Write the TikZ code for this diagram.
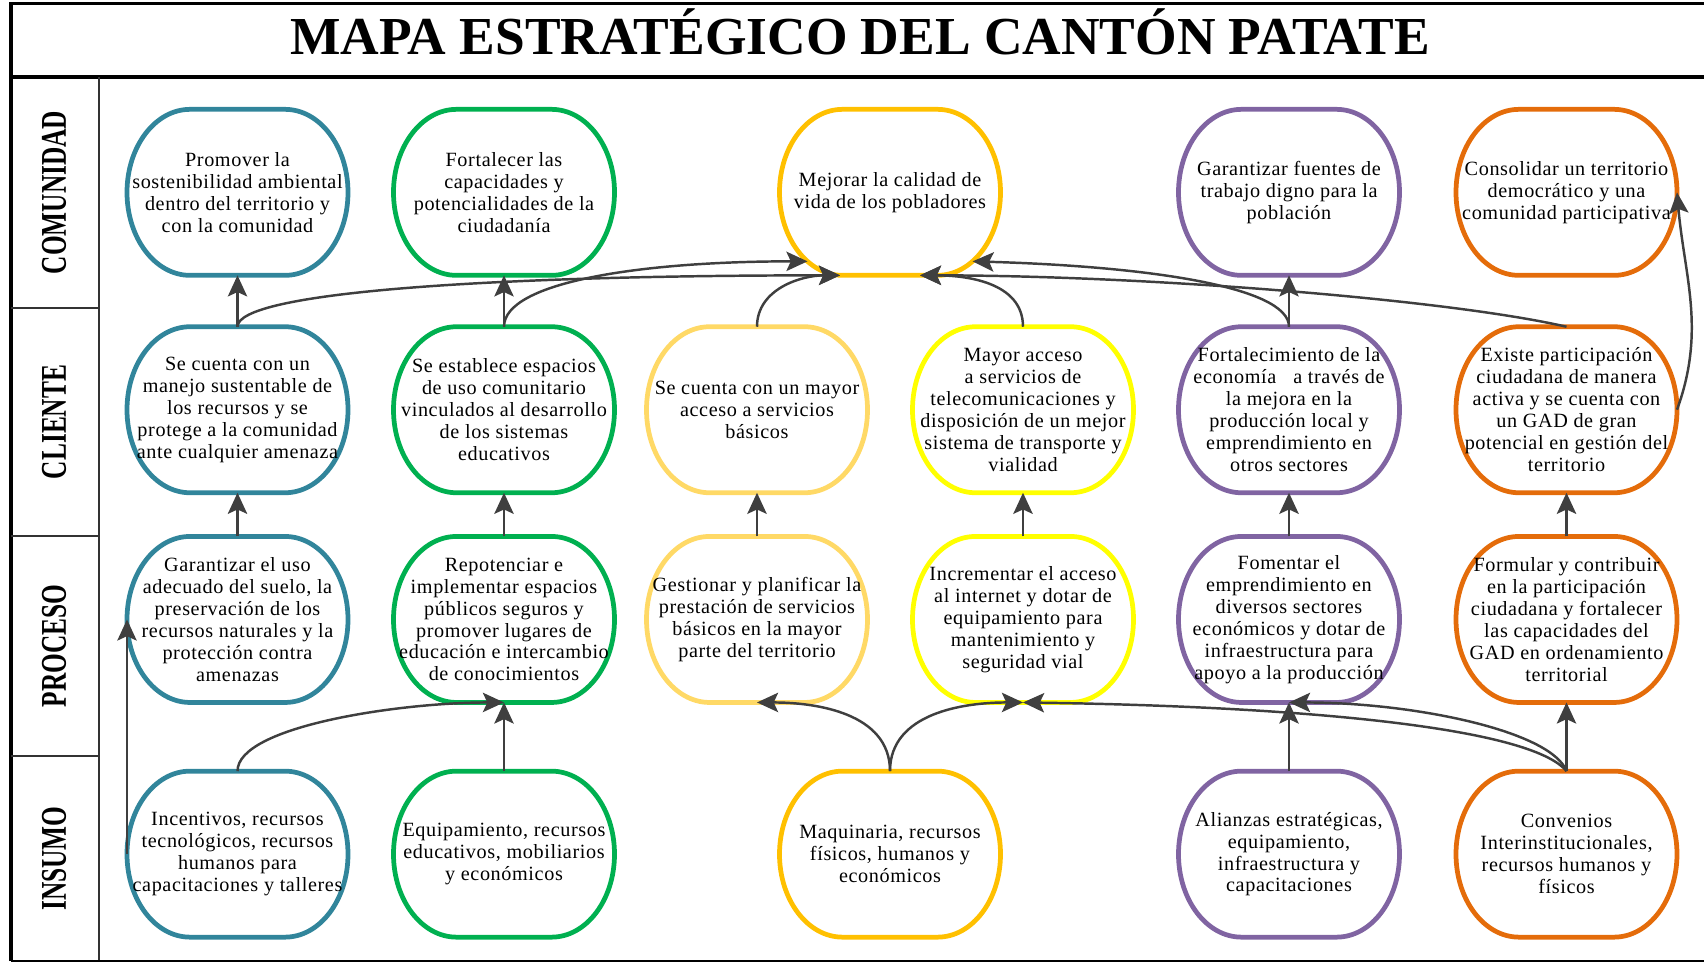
\documentclass[tikz,border=0pt]{standalone}
\usepackage{fontspec}
\usepackage{graphicx}
\usepackage{xcolor}
\usepackage{tikz}
\usetikzlibrary{arrows.meta,positioning}
\setmainfont{Liberation Serif}
\newfontfamily\objfam[LetterSpace=3.0]{Liberation Serif}
\newcommand{\objfont}{\objfam\fontsize{11.5pt}{12.5pt}\selectfont}

\definecolor{cTeal}{RGB}{49,133,155}
\definecolor{cGreen}{RGB}{0,176,80}
\definecolor{cGold}{RGB}{255,192,0}
\definecolor{cSand}{RGB}{255,217,102}
\definecolor{cYellow}{RGB}{255,255,0}
\definecolor{cPurple}{RGB}{128,100,162}
\definecolor{cOrange}{RGB}{228,108,10}
\definecolor{cArrow}{RGB}{63,63,63}

\tikzset{
  ms_box/.style={
    minimum width=4.42cm, minimum height=3.32cm, inner sep=0pt, outer sep=0pt,
    align=center, font=\objfont,
    append after command={\pgfextra{\begin{pgfinterruptpath}
      \draw[#1, line width=2.7pt, line join=round]
        ([xshift=1.26cm]\tikzlastnode.north west) -- ([xshift=-1.26cm]\tikzlastnode.north east)
        arc[start angle=90, end angle=-90, x radius=1.26cm, y radius=1.66cm]
        -- ([xshift=1.26cm]\tikzlastnode.south west)
        arc[start angle=270, end angle=90, x radius=1.26cm, y radius=1.66cm] -- cycle;
    \end{pgfinterruptpath}}}
  },
  ms_teal/.style={ms_box=cTeal},
  ms_green/.style={ms_box=cGreen},
  ms_gold/.style={ms_box=cGold},
  ms_sand/.style={ms_box=cSand},
  ms_yellow/.style={ms_box=cYellow},
  ms_purple/.style={ms_box=cPurple},
  ms_orange/.style={ms_box=cOrange},
  ms_arr/.style={-{Stealth[length=12pt, width=11pt, inset=2.5pt]}, line width=1.4pt, draw=cArrow},
  ms_title/.style={font=\fontsize{30.4pt}{32pt}\selectfont\bfseries, anchor=base, inner sep=0pt},
  ms_lane/.style={font=\fontsize{20.6pt}{22pt}\selectfont\bfseries, rotate=90, inner sep=0pt},
  ms_thick/.style={line width=1.9pt},
  ms_thin/.style={line width=0.7pt, black!80},
}

\begin{document}
\begin{tikzpicture}

\useasboundingbox (0,0) rectangle (34.08,-19.26);

% Frame
\draw[ms_thick] (0.22,-19.22) -- (0.22,-0.066) -- (34.3,-0.066);
\draw[ms_thick] (0.22,-1.54) -- (34.3,-1.54);
\draw[ms_thin] (1.98,-1.54) -- (1.98,-19.22);
\draw[ms_thin] (0.22,-6.16) -- (1.98,-6.16);
\draw[ms_thin] (0.22,-10.72) -- (1.98,-10.72);
\draw[ms_thin] (0.22,-15.12) -- (1.98,-15.12);
\draw[line width=1.2pt] (0.22,-19.22) -- (34.3,-19.22);

\node[ms_title] (title) at (17.2,-1.09) {MAPA ESTRATÉGICO DEL CANTÓN PATATE};

% Lanes
\node[ms_lane] (lane1) at (1.08,-3.85)  {\scalebox{0.7}[1]{COMUNIDAD}};
\node[ms_lane] (lane2) at (1.08,-8.44)  {\scalebox{0.7}[1]{CLIENTE}};
\node[ms_lane] (lane3) at (1.08,-12.92) {\scalebox{0.7}[1]{PROCESO}};
\node[ms_lane] (lane4) at (1.08,-17.17) {\scalebox{0.7}[1]{INSUMO}};

% Column 1
\node[ms_teal] (com1) at (4.75,-3.847) {Promover la\\sostenibilidad ambiental\\dentro del territorio y\\con la comunidad};
\node[ms_teal, below=1.028cm of com1] (cli1) {Se cuenta con un\\manejo sustentable de\\los recursos y se\\protege a la comunidad\\ante cualquier amenaza};
\node[ms_teal, below=0.874cm of cli1] (pro1) {Garantizar el uso\\adecuado del suelo, la\\preservación de los\\recursos naturales y la\\protección contra\\amenazas};
\node[ms_teal, below=1.374cm of pro1] (ins1) {Incentivos, recursos\\tecnológicos, recursos\\humanos para\\capacitaciones y talleres};

% Column 2
\node[ms_green, right=0.91cm of cli1] (cli2) {Se establece espacios\\de uso comunitario\\vinculados al desarrollo\\de los sistemas\\educativos};
\node[ms_green, above=1.028cm of cli2] (com2) {Fortalecer las\\capacidades y\\potencialidades de la\\ciudadanía};
\node[ms_green, below=0.874cm of cli2] (pro2) {Repotenciar e\\implementar espacios\\públicos seguros y\\promover lugares de\\educación e intercambio\\de conocimientos};
\node[ms_green, below=1.374cm of pro2] (ins2) {Equipamiento, recursos\\educativos, mobiliarios\\y económicos};

% Columns 3 and 4
\node[ms_sand, right=0.64cm of cli2] (cli3) {Se cuenta con un mayor\\acceso a servicios\\básicos};
\node[ms_sand, below=0.874cm of cli3] (pro3) {Gestionar y planificar la\\prestación de servicios\\básicos en la mayor\\parte del territorio};
\node[ms_yellow, right=0.90cm of cli3] (cli4) {Mayor acceso\\a servicios de\\telecomunicaciones y\\disposición de un mejor\\sistema de transporte y\\vialidad};
\node[ms_yellow, below=0.874cm of cli4] (pro4) {Incrementar el acceso\\al internet y dotar de\\equipamiento para\\mantenimiento y\\seguridad vial};
\node[ms_gold, right=3.30cm of com2] (mej) {Mejorar la calidad de\\vida de los pobladores};
\node[ms_gold, right=3.30cm of ins2] (maq) {Maquinaria, recursos\\físicos, humanos y\\económicos};

% Column 5
\node[ms_purple, right=0.90cm of cli4] (cli5) {Fortalecimiento de la\\economía \ \ a través de\\la mejora en la\\producción local y\\emprendimiento en\\otros sectores};
\node[ms_purple, above=1.028cm of cli5] (com5) {Garantizar fuentes de\\trabajo digno para la\\población};
\node[ms_purple, below=0.874cm of cli5] (pro5) {Fomentar el\\emprendimiento en\\diversos sectores\\económicos y dotar de\\infraestructura para\\apoyo a la producción};
\node[ms_purple, below=1.374cm of pro5] (ins5) {Alianzas estratégicas,\\equipamiento,\\infraestructura y\\capacitaciones};

% Column 6
\node[ms_orange, right=1.13cm of cli5] (cli6) {Existe participación\\ciudadana de manera\\activa y se cuenta con\\un GAD de gran\\potencial en gestión del\\territorio};
\node[ms_orange, above=1.028cm of cli6] (com6) {Consolidar un territorio\\democrático y una\\comunidad participativa};
\node[ms_orange, below=0.874cm of cli6] (pro6) {Formular y contribuir\\en la participación\\ciudadana y fortalecer\\las capacidades del\\GAD en ordenamiento\\territorial};
\node[ms_orange, below=1.374cm of pro6] (ins6) {Convenios\\Interinstitucionales,\\recursos humanos y\\físicos};

% Entry points on the lower edge of mej
\coordinate (mej_ll) at ([xshift=-1.0cm]mej.south);
\coordinate (mej_lr) at ([xshift=0.6cm]mej.south);
\coordinate (mej_ul) at ([shift={(-1.65cm,0.28cm)}]mej.south);
\coordinate (mej_ur) at ([shift={(1.65cm,0.28cm)}]mej.south);

% CLIENTE -> COMUNIDAD
\draw[ms_arr] (cli1.north) -- (com1.south);
\draw[ms_arr] (cli2.north) -- (com2.south);
\draw[ms_arr] (cli5.north) -- (com5.south);
\draw[ms_arr] (cli1.north) .. controls +(0,0.7) and +(-6.9,0) .. (mej_ll);
\draw[ms_arr] (cli2.north) .. controls +(0,0.9) and +(-3.3,0) .. (mej_ul);
\draw[ms_arr] (cli3.north) to[out=90, in=180] (mej_ll);
\draw[ms_arr] (cli4.north) to[out=90, in=0] (mej_lr);
\draw[ms_arr] (cli5.north) .. controls +(0,0.8) and +(3.5,-0.1) .. (mej_ur);
\draw[ms_arr] (cli6.north) .. controls +(-2.34,0.54) and +(4.54,0) .. (mej_lr);
\draw[ms_arr] (cli6.east) to[out=70, in=-85] (com6.east);

% PROCESO -> CLIENTE
\draw[ms_arr] (pro1.north) -- (cli1.south);
\draw[ms_arr] (pro2.north) -- (cli2.south);
\draw[ms_arr] (pro3.north) -- (cli3.south);
\draw[ms_arr] (pro4.north) -- (cli4.south);
\draw[ms_arr] (pro5.north) -- (cli5.south);
\draw[ms_arr] (pro6.north) -- (cli6.south);

% INSUMO -> PROCESO
\draw[ms_arr] (ins1.west) -- (pro1.west);
\draw[ms_arr] (ins1.north) .. controls +(0,0.9) and +(-2.08,0) .. (pro2.south);
\draw[ms_arr] (ins2.north) -- (pro2.south);
\draw[ms_arr] (maq.north) to[out=90, in=0] (pro3.south);
\draw[ms_arr] (maq.north) to[out=90, in=180] (pro4.south);
\draw[ms_arr] (ins5.north) -- (pro5.south);
\draw[ms_arr] (ins6.north) -- (pro6.south);
\draw[ms_arr] (ins6.north) .. controls +(-0.3,0.8) and +(2.5,0) .. (pro5.south);
\draw[ms_arr] (ins6.north) .. controls +(-0.72,0.88) and +(5.54,-0.08) .. (pro4.south);

\end{tikzpicture}
\end{document}
